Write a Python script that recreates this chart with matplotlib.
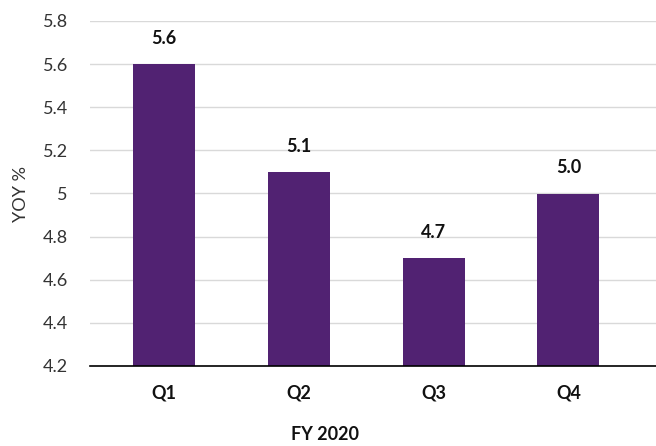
import matplotlib.pyplot as plt
from matplotlib.ticker import FuncFormatter

quarters = ['Q1', 'Q2', 'Q3', 'Q4']
yoy = [5.6, 5.1, 4.7, 5.0]
bar_color = '#512272'

plt.rcParams['font.family'] = ['Lato', 'DejaVu Sans']

fig = plt.figure(figsize=(6.56, 4.46), dpi=100)
ax = fig.add_axes([90 / 656, 1 - 366 / 446, 1 - 90 / 656, (366 - 21) / 446])

x = range(len(quarters))
ax.bar(x, [v - 4.2 for v in yoy], bottom=4.2, width=0.46, color=bar_color, zorder=3)

for i, v in enumerate(yoy):
    ax.text(i, v + 0.08, f'{v:.1f}', ha='center', va='bottom',
            fontsize=13, fontweight='bold', color='#111111')

ax.set_xlim(-0.55, 3.65)
ax.set_ylim(4.2, 5.8)
ax.set_yticks([4.2, 4.4, 4.6, 4.8, 5.0, 5.2, 5.4, 5.6, 5.8])
ax.yaxis.set_major_formatter(FuncFormatter(lambda v, p: f'{v:g}'))
ax.set_xticks(list(x))
ax.set_xticklabels(quarters, fontsize=13, fontweight='bold', color='#111111')
ax.tick_params(axis='y', length=0, pad=16, labelsize=13, labelcolor='#333333')
ax.tick_params(axis='x', length=0, pad=13)

ax.grid(axis='y', color='#d9d9d9', linewidth=1, zorder=0)
for s in ['top', 'right', 'left']:
    ax.spines[s].set_visible(False)
ax.spines['bottom'].set_color('black')
ax.spines['bottom'].set_linewidth(1.2)
ax.spines['bottom'].set_zorder(4)

ax.set_ylabel('YOY %', fontsize=13, color='#333333', labelpad=10)
ax.set_xlabel('FY 2020', fontsize=13, fontweight='bold', color='#111111')
ax.xaxis.set_label_coords((325 - 90) / 566, -0.175)

fig.savefig('out.png', dpi=100)
